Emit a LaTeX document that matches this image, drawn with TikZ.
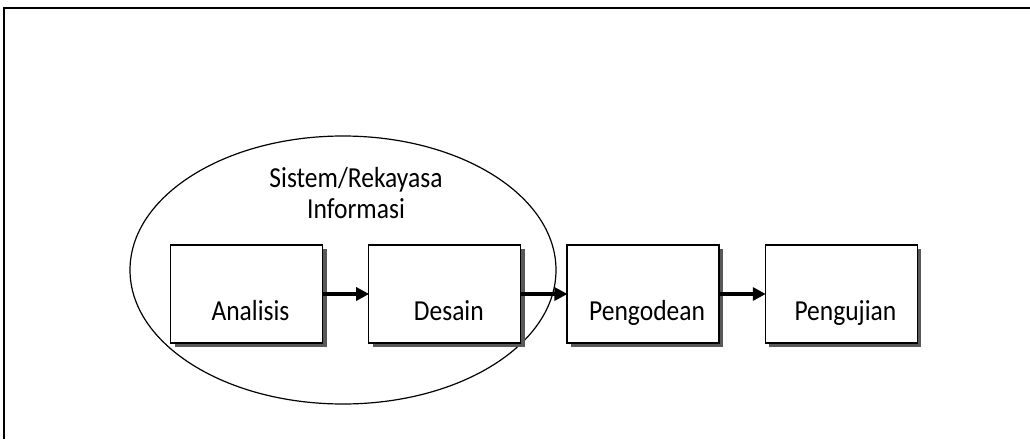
\documentclass[tikz,border=0pt]{standalone}
\usepackage{fontspec}
\setmainfont{Carlito}[FakeStretch=0.88]
\usetikzlibrary{positioning,shadows,arrows.meta}

\tikzset{
  stagebox/.style = {draw, line width=1.3pt, fill=white, minimum width=152pt, minimum height=98pt,
    drop shadow={shadow xshift=4pt, shadow yshift=-4pt, fill=black!65, opacity=1}},
  stagetext/.style = {font=\fontsize{29}{31}\selectfont, anchor=base},
  flow/.style = {line width=3.5pt, -{Triangle[length=13pt,width=13pt]}, shorten >=-1pt}
}

\begin{document}
\begin{tikzpicture}[x=1pt, y=-1pt]
    \useasboundingbox (0,0) rectangle (1030,439);
    % frame
    \draw[line width=1.6pt] (4,439) -- (4,8) -- (1030,8);
    % ellipse round the first two stages
    \draw[line width=1.2pt] (343,270) ellipse [x radius=213pt, y radius=134pt];
    \node[stagetext, align=center] (sistem) at (356,218) {Sistem/Rekayasa\\Informasi};
    % stages
    \node[stagebox] (analisis) at (246.5,294) {};
    \node[stagebox, right=45pt of analisis] (desain) {};
    \node[stagebox, right=45pt of desain] (pengodean) {};
    \node[stagebox, right=45pt of pengodean] (pengujian) {};
    \foreach \s/\t in {analisis/Analisis, desain/Desain, pengodean/Pengodean, pengujian/Pengujian}
        \node[stagetext] (\s-text) at ([xshift=4pt, yshift=-26pt]\s.center) {\t};
    \draw[flow] (analisis) -- (desain);
    \draw[flow] (desain) -- (pengodean);
    \draw[flow] (pengodean) -- (pengujian);
\end{tikzpicture}
\end{document}
